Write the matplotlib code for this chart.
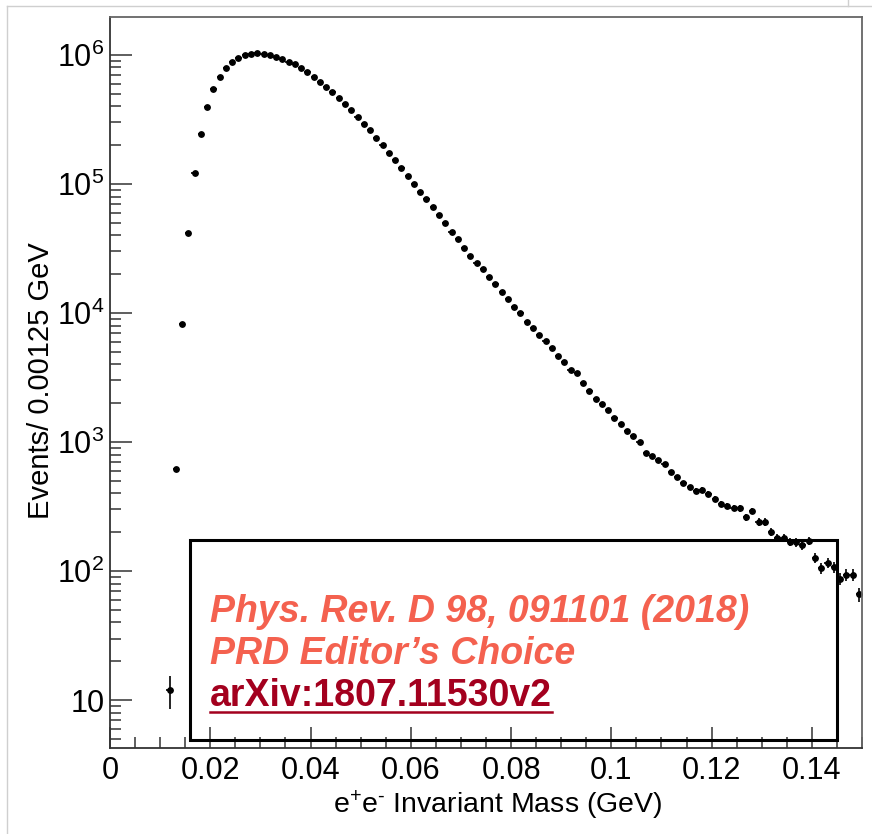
import numpy as np
import matplotlib
matplotlib.use("Agg")
import matplotlib.pyplot as plt
from matplotlib.patches import Rectangle
from matplotlib.lines import Line2D
from matplotlib.ticker import LogLocator, FuncFormatter, MultipleLocator

plt.rcParams["font.family"] = "Liberation Sans"
plt.rcParams["mathtext.fontset"] = "custom"
plt.rcParams["mathtext.rm"] = "Liberation Sans"
plt.rcParams["mathtext.it"] = "Liberation Sans:italic"
plt.rcParams["mathtext.bf"] = "Liberation Sans:bold"

# histogram: 0.00125 GeV bins, first non-empty bin index 9
bin_width = 0.00125
first_bin = 9
counts = [
    12, 618, 8220, 41700, 121000, 244000, 394000, 545000, 679000, 798000,
    887000, 953000, 1000000, 1018000, 1031000, 1018000, 1000000, 971000, 926000, 887000,
    847000, 789000, 735000, 679000, 621000, 568000, 514000, 467000, 417000, 375000,
    333000, 292000, 262000, 229000, 201000, 175000, 154000, 134000, 116000, 100000,
    87100, 76100, 65900, 57100, 49900, 42700, 37200, 32100, 27800, 24500,
    21800, 19100, 16700, 14500, 12800, 11200, 9950, 8570, 7700, 6750,
    6070, 5320, 4670, 4150, 3610, 3410, 2880, 2490, 2170, 1970,
    1770, 1540, 1380, 1220, 1110, 1000, 826, 779, 721, 675,
    585, 535, 478, 445, 417, 424, 395, 363, 330, 319,
    310, 306, 261, 292, 240, 240, 200, 180, 180, 168,
    167, 158, 171, 126, 105, 116, 107, 87, 94, 94,
    66,
]
counts = np.array(counts, dtype=float)
centers = (first_bin + np.arange(len(counts)) + 0.5) * bin_width

xlabel = r"e$^{+}$e$^{\text{-}}$ Invariant Mass (GeV)"
ylabel = "Events/ 0.00125 GeV"
notes = ["Phys. Rev. D 98, 091101 (2018)", "PRD Editor\u2019s Choice", "arXiv:1807.11530v2"]

W, H = 872, 834
fig = plt.figure(figsize=(W / 100, H / 100), dpi=100)
ax = fig.add_axes([110 / W, 1 - 748 / H, 752 / W, 731 / H])

ax.errorbar(centers, counts, xerr=bin_width / 2, yerr=np.sqrt(counts), fmt="o",
            ms=3.9, color="black", mec="black", elinewidth=1.2, capsize=0)

ax.set_yscale("log")
ax.set_xlim(0, 0.15)
ax.set_ylim(4.25, 1.97e6)

ax.xaxis.set_major_locator(MultipleLocator(0.02))
ax.xaxis.set_minor_locator(MultipleLocator(0.005))
ax.xaxis.set_major_formatter(FuncFormatter(lambda v, p: "0" if abs(v) < 1e-9 else f"{round(v, 3):g}"))
ax.yaxis.set_major_locator(LogLocator(base=10, numticks=20))
ax.yaxis.set_minor_locator(LogLocator(base=10, subs=np.arange(2, 10), numticks=20))


def yfmt(v, p):
    n = int(round(np.log10(v)))
    if n == 1:
        return "10"
    return r"$\mathregular{10^{%d}}$" % n


ax.yaxis.set_major_formatter(FuncFormatter(yfmt))
ax.tick_params(which="both", direction="in", colors="#333333", width=1.1, labelsize=22)
ax.tick_params(axis="y", which="major", length=15.8, pad=4)
ax.tick_params(axis="y", which="minor", length=7.9)
ax.tick_params(axis="x", which="major", length=15, pad=6)
ax.tick_params(axis="x", which="minor", length=8)
ax.tick_params(labelcolor="black")
for s in ["left", "bottom"]:
    ax.spines[s].set_color("#333333")
    ax.spines[s].set_linewidth(1.3)
for s in ["top", "right"]:
    ax.spines[s].set_color("#666666")
    ax.spines[s].set_linewidth(1.3)

ax.set_xlabel(xlabel, fontsize=20.5)
ax.xaxis.set_label_coords(0.516, -0.078)
ax.xaxis.label.set_va("center")
ax.set_ylabel(ylabel, fontsize=21, va="center")
ax.yaxis.set_label_coords(-0.092, 0.503)

# annotation box
fig.add_artist(Rectangle((190 / W, 1 - 740 / H), 647 / W, 200 / H, transform=fig.transFigure,
                         fill=False, ec="black", lw=2.2, zorder=5))
salmon = "#F4614F"
darkred = "#A3001E"
fig.text(210 / W, 1 - 622 / H, notes[0], fontsize=27, fontweight="bold", fontstyle="italic",
         color=salmon, va="baseline", ha="left")
fig.text(210 / W, 1 - 664 / H, notes[1], fontsize=27, fontweight="bold", fontstyle="italic",
         color=salmon, va="baseline", ha="left")
t3 = fig.text(210 / W, 1 - 706 / H, notes[2], fontsize=27, fontweight="bold",
              color=darkred, va="baseline", ha="left")
fig.canvas.draw()
bb = t3.get_window_extent()
fig.add_artist(Line2D([bb.x0 / W, bb.x1 / W], [1 - 712 / H, 1 - 712 / H],
                      transform=fig.transFigure, color=darkred, lw=1.8))

# outer frame of the slide
frame = "#cfcfcf"
fig.add_artist(Line2D([7 / W, 1], [1 - 6 / H, 1 - 6 / H], transform=fig.transFigure, color=frame, lw=1))
fig.add_artist(Line2D([7 / W, 7 / W], [0, 1 - 6 / H], transform=fig.transFigure, color=frame, lw=1))
fig.add_artist(Line2D([848 / W, 848 / W], [1 - 6 / H, 1], transform=fig.transFigure, color=frame, lw=1))

fig.savefig("out.png", dpi=100)
